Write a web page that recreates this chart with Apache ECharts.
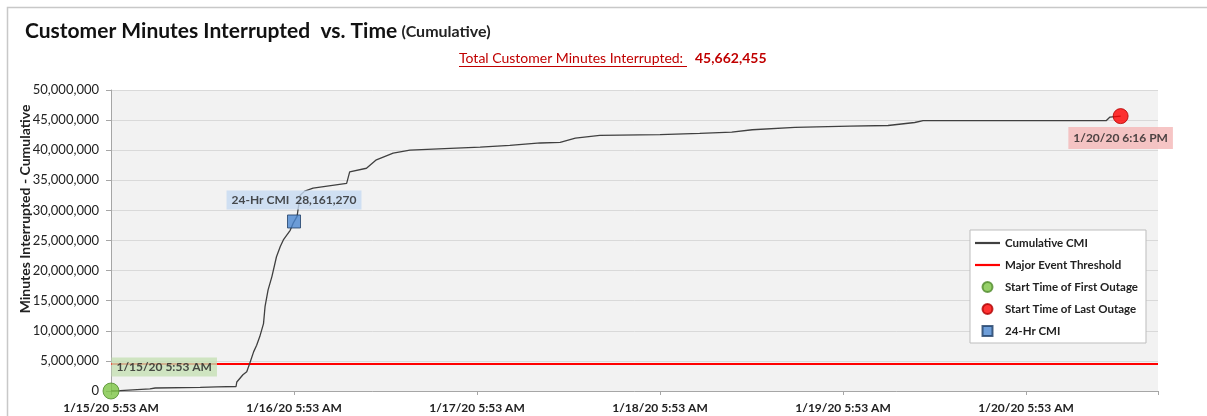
<!DOCTYPE html>
<html>
<head>
<meta charset="utf-8">
<script src="https://cdn.jsdelivr.net/npm/echarts@6/dist/echarts.min.js"></script>
<style>
  html, body { margin: 0; padding: 0; background: #fff; }
  #chart { width: 1207px; height: 416px; }
</style>
</head>
<body>
<div id="chart"></div>
<script>
// hours since first outage (1/15/20 5:53 AM) and cumulative CMI in millions
const cmiHours = [0, 1.2, 5.1, 5.8, 11.7, 13.9, 16.4, 16.5, 17.3, 17.8, 18.2, 18.7, 19.1, 19.5, 20.0, 20.2, 20.6, 21.1,
    21.7, 22.2, 22.6, 23.5, 23.9, 24.0, 24.4, 24.8, 25.4, 26.5, 30.9, 31.3, 33.5, 34.8, 37.0, 39.2, 44.5, 48.4,
    52.3, 56.3, 58.9, 60.9, 64.1, 72.0, 77.2, 81.4, 84.1, 89.7, 96.9, 101.9, 105.4, 106.5, 130.5, 131.0, 132.4];
const cmiValues = [0, 0.05, 0.35, 0.5, 0.6, 0.7, 0.75, 1.5, 2.7, 3.2, 4.6, 6.5, 7.6, 9.0, 11.2, 14.0, 16.8, 19.0,
    22.3, 24.0, 25.1, 26.7, 27.9, 28.16127, 29.0, 32.5, 33.2, 33.7, 34.5, 36.4, 37.0, 38.4, 39.5, 40.0, 40.3, 40.5,
    40.8, 41.2, 41.3, 42.0, 42.45, 42.6, 42.8, 43.0, 43.4, 43.8, 44.0, 44.1, 44.6, 44.9, 44.9, 45.5, 45.662455];

const thresholdValue = 4480000;
const firstOutage = { hour: 0, value: 0, label: '1/15/20 5:53 AM' };
const lastOutage = { hour: 132.4, value: 45662455, label: '1/20/20 6:16 PM' };
const dayCmi = { hour: 24, value: 28161270, label: '24-Hr CMI' };
const totalCmi = 45662455;

const xTickLabels = ['1/15/20 5:53 AM', '1/16/20 5:53 AM', '1/17/20 5:53 AM', '1/18/20 5:53 AM', '1/19/20 5:53 AM', '1/20/20 5:53 AM'];
const xMax = 137.3;

const fmt = n => Math.round(n).toLocaleString('en-US');
const FONT = 'Lato';
// thin bar used as legend icon for the line series
const LINE_ICON = 'path://M0,0h25v2.2h-25z';

var myChart = echarts.init(document.getElementById('chart'), null, { renderer: 'canvas' });

var option = {
    backgroundColor: '#fff',
    textStyle: { fontFamily: FONT },
    animation: false,
    title: {
        left: 20,
        top: 16,
        text: '{a|Customer Minutes Interrupted  vs. Time} {b|(Cumulative)}',
        textStyle: {
            rich: {
                a: { fontFamily: FONT, fontSize: 21, fontWeight: 'bold', color: '#111' },
                b: { fontFamily: FONT, fontSize: 16, color: '#222' }
            }
        }
    },
    graphic: [
        {
            type: 'rect', left: 5, top: 5, silent: true,
            shape: { width: 1220, height: 430 },
            style: { fill: 'none', stroke: '#c8c8c8', lineWidth: 1.5 }
        },
        {
            type: 'text', x: 459, y: 51,
            style: { text: 'Total Customer Minutes Interrupted:', fill: '#c00000', font: '14px ' + FONT }
        },
        {
            type: 'rect', x: 459, y: 66, shape: { width: 228, height: 1 },
            style: { fill: '#c00000' }
        },
        {
            type: 'text', x: 695, y: 51,
            style: { text: fmt(totalCmi), fill: '#c00000', font: 'bold 14px ' + FONT }
        },
        {
            type: 'text', x: 25, y: 209, rotation: Math.PI / 2,
            style: {
                text: 'Minutes Interrupted - Cumulative', fill: '#222',
                font: 'bold 14px ' + FONT, align: 'center', verticalAlign: 'middle'
            }
        }
    ],
    legend: {
        orient: 'vertical',
        left: 970,
        top: 230,
        width: 174,
        padding: [7, 8, 6, 5],
        itemGap: 10,
        itemWidth: 25,
        itemHeight: 10,
        backgroundColor: '#fff',
        borderColor: '#bdbdbd',
        borderWidth: 1,
        textStyle: { fontFamily: FONT, fontSize: 11.5, fontWeight: 'bold', color: '#222' },
        data: [
            { name: 'Cumulative CMI', icon: LINE_ICON },
            { name: 'Major Event Threshold', icon: LINE_ICON },
            { name: 'Start Time of First Outage', icon: 'path://M5,0a5,5 0 1,0 0.01,0z' },
            { name: 'Start Time of Last Outage', icon: 'path://M5,0a5,5 0 1,0 0.01,0z' },
            { name: '24-Hr CMI', icon: 'path://M0,0h10v10h-10z' }
        ]
    },
    grid: {
        left: 111, right: 49, top: 90, bottom: 25,
        show: true, backgroundColor: '#f2f2f2', borderWidth: 0
    },
    xAxis: {
        type: 'value',
        min: 0,
        max: xMax,
        interval: 24,
        axisLine: { lineStyle: { color: '#a6a6a6' } },
        axisTick: { length: 4, lineStyle: { color: '#a6a6a6' } },
        splitLine: { show: false },
        axisLabel: {
            margin: 11,
            fontFamily: FONT, fontSize: 12, fontWeight: 'bold', color: '#222',
            formatter: v => (v % 24 === 0 ? (xTickLabels[v / 24] || '') : '')
        }
    },
    yAxis: {
        type: 'value',
        min: 0,
        max: 50000000,
        interval: 5000000,
        axisLine: { show: true, lineStyle: { color: '#a6a6a6' } },
        axisTick: { show: true, length: 5, lineStyle: { color: '#a6a6a6' } },
        splitLine: { lineStyle: { color: '#d9d9d9' } },
        axisLabel: {
            margin: 12,
            fontFamily: FONT, fontSize: 13, color: '#222',
            formatter: v => fmt(v)
        }
    },
    series: [
        {
            name: 'Major Event Threshold',
            type: 'line',
            symbol: 'none',
            lineStyle: { color: '#ff0000', width: 2 },
            itemStyle: { color: '#ff0000' },
            data: [[0, thresholdValue], [xMax, thresholdValue]],
            z: 2
        },
        {
            name: 'Cumulative CMI',
            type: 'line',
            symbol: 'none',
            lineStyle: { color: '#404040', width: 1.3 },
            itemStyle: { color: '#404040' },
            data: cmiHours.map((h, i) => [h, cmiValues[i] * 1e6]),
            z: 3
        },
        {
            name: 'Start Time of First Outage',
            type: 'scatter',
            symbol: 'circle',
            symbolSize: 16,
            itemStyle: { color: '#7cc443', borderColor: '#4f8a2b', borderWidth: 1 },
            label: {
                show: true, position: 'right', offset: [-13, -24],
                formatter: firstOutage.label,
                fontFamily: FONT, fontSize: 12, fontWeight: 'bold', color: '#222',
                backgroundColor: '#c6e0b4', padding: [4, 5, 3, 5]
            },
            data: [[firstOutage.hour, firstOutage.value]],
            clip: false,
            z: 5
        },
        {
            name: 'Start Time of Last Outage',
            type: 'scatter',
            symbol: 'circle',
            symbolSize: 15,
            itemStyle: { color: '#ff0000', borderColor: '#b00000', borderWidth: 1 },
            label: {
                show: true, position: 'bottom', offset: [0, -2],
                formatter: lastOutage.label,
                fontFamily: FONT, fontSize: 12, fontWeight: 'bold', color: '#222',
                backgroundColor: '#f4b6b6', padding: [5, 5, 5, 5]
            },
            data: [[lastOutage.hour, lastOutage.value]],
            clip: false,
            z: 5
        },
        {
            name: '24-Hr CMI',
            type: 'scatter',
            symbol: 'rect',
            symbolSize: 13,
            itemStyle: { color: '#4a86d0', borderColor: '#1f3f66', borderWidth: 1 },
            label: {
                show: true, position: 'top', offset: [0, 0],
                formatter: dayCmi.label + '  ' + fmt(dayCmi.value),
                fontFamily: FONT, fontSize: 12, fontWeight: 'bold', color: '#222',
                backgroundColor: '#c5d9f1', padding: [4, 5, 3, 5]
            },
            data: [[dayCmi.hour, dayCmi.value]],
            z: 5
        }
    ]
};

myChart.setOption(option);
</script>
</body>
</html>
